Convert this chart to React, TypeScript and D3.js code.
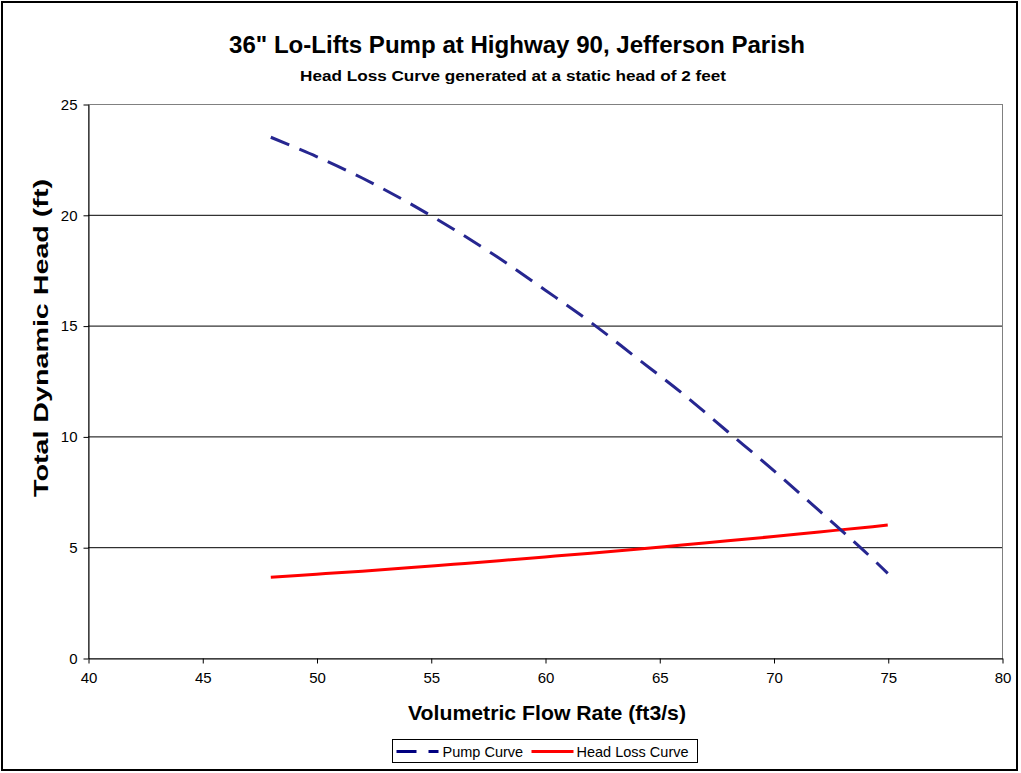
import { useEffect, useRef } from "react";
import * as d3 from "d3";

// flow rate (ft3/s) points for both curves
const flowRates = [48, 50, 52, 54, 56, 58, 60, 62, 64, 66, 68, 70, 72, 74, 75];
const pumpCurve = [23.5, 22.63, 21.66, 20.56, 19.35, 18.04, 16.61, 15.15, 13.55, 11.95, 10.21, 8.47, 6.65, 4.8, 3.82];
const headLossCurve = [3.64, 3.78, 3.92, 4.07, 4.23, 4.39, 4.56, 4.73, 4.91, 5.1, 5.29, 5.48, 5.69, 5.89, 6.0];

const xTicks = [40, 45, 50, 55, 60, 65, 70, 75, 80];
const yTicks = [0, 5, 10, 15, 20, 25];

const seriesNames = ["Pump Curve", "Head Loss Curve"];

const App = () => {
  const ref = useRef<SVGSVGElement>(null);

  useEffect(() => {
    drawChart();
  }, []);

  const drawChart = () => {
    const width = 1021;
    const height = 773;
    const plot = { left: 88, right: 1002, top: 104, bottom: 658 };
    const font = "Liberation Sans, Arial, sans-serif";

    const svg = d3.select(ref.current);
    svg.selectAll("*").remove();

    svg.append("rect").attr("width", width).attr("height", height).attr("fill", "white");

    // outer frame
    svg
      .append("rect")
      .attr("x", 2)
      .attr("y", 2)
      .attr("width", 1015)
      .attr("height", 768)
      .attr("fill", "none")
      .attr("stroke", "black")
      .attr("stroke-width", 2);

    const xScale = d3.scaleLinear().domain([40, 80]).range([plot.left, plot.right]);
    const yScale = d3.scaleLinear().domain([0, 25]).range([plot.bottom, plot.top]);

    // plot area border (top/right gray)
    svg
      .append("rect")
      .attr("x", plot.left + 0.5)
      .attr("y", plot.top + 0.5)
      .attr("width", plot.right - plot.left)
      .attr("height", plot.bottom - plot.top)
      .attr("fill", "none")
      .attr("stroke", "#808080")
      .attr("stroke-width", 1);

    // horizontal gridlines
    svg
      .append("g")
      .selectAll("line")
      .data(yTicks.filter((d) => d > 0 && d < 25))
      .enter()
      .append("line")
      .attr("x1", plot.left)
      .attr("x2", plot.right)
      .attr("y1", (d) => yScale(d) + 0.5)
      .attr("y2", (d) => yScale(d) + 0.5)
      .attr("stroke", "black")
      .attr("stroke-width", 1);

    // axes
    const yAxis = d3
      .axisLeft(yScale)
      .tickValues(yTicks)
      .tickSize(5)
      .tickPadding(6)
      .tickSizeOuter(0);
    const yG = svg
      .append("g")
      .attr("transform", "translate(" + (plot.left + 0.5) + ",0.5)")
      .call(yAxis);

    const xAxis = d3
      .axisBottom(xScale)
      .tickValues(xTicks)
      .tickSize(5)
      .tickPadding(9)
      .tickSizeOuter(0);
    const xG = svg
      .append("g")
      .attr("transform", "translate(0.5," + (plot.bottom + 0.5) + ")")
      .call(xAxis);

    [xG, yG].forEach((g) => {
      g.select(".domain").attr("stroke", "black");
      g.selectAll(".tick line").attr("stroke", "black");
      g.selectAll(".tick text")
        .attr("font-family", font)
        .attr("font-size", "15px")
        .attr("fill", "black");
    });

    const line = d3
      .line<number>()
      .x((_, i) => xScale(flowRates[i]))
      .y((d) => yScale(d))
      .curve(d3.curveCatmullRom);

    svg
      .append("path")
      .attr("d", line(headLossCurve))
      .attr("fill", "none")
      .attr("stroke", "#ff0000")
      .attr("stroke-width", 3);

    svg
      .append("path")
      .attr("d", line(pumpCurve))
      .attr("fill", "none")
      .attr("stroke", "#262690")
      .attr("stroke-width", 3)
      .attr("stroke-dasharray", "20,11");

    // titles (stretched to the widths seen in the source image)
    svg
      .append("text")
      .attr("x", 517)
      .attr("y", 53)
      .attr("text-anchor", "middle")
      .attr("font-family", font)
      .attr("font-weight", "bold")
      .attr("font-size", "23px")
      .attr("textLength", 576)
      .attr("lengthAdjust", "spacingAndGlyphs")
      .text('36" Lo-Lifts Pump at Highway 90, Jefferson Parish');

    svg
      .append("text")
      .attr("x", 513)
      .attr("y", 81)
      .attr("text-anchor", "middle")
      .attr("font-family", font)
      .attr("font-weight", "bold")
      .attr("font-size", "15px")
      .attr("textLength", 426)
      .attr("lengthAdjust", "spacingAndGlyphs")
      .text("Head Loss Curve generated at a static head of 2 feet");

    svg
      .append("text")
      .attr("transform", "translate(48,338) rotate(-90)")
      .attr("text-anchor", "middle")
      .attr("font-family", font)
      .attr("font-weight", "bold")
      .attr("font-size", "21px")
      .attr("textLength", 318)
      .attr("lengthAdjust", "spacingAndGlyphs")
      .text("Total Dynamic Head (ft)");

    svg
      .append("text")
      .attr("x", 547)
      .attr("y", 720)
      .attr("text-anchor", "middle")
      .attr("font-family", font)
      .attr("font-weight", "bold")
      .attr("font-size", "21px")
      .attr("textLength", 278)
      .attr("lengthAdjust", "spacingAndGlyphs")
      .text("Volumetric Flow Rate (ft3/s)");

    // legend
    const legend = svg.append("g").attr("transform", "translate(392.5,739.5)");
    legend
      .append("rect")
      .attr("width", 305)
      .attr("height", 23)
      .attr("fill", "white")
      .attr("stroke", "black")
      .attr("stroke-width", 1);

    const legendStyles = [
      { x: 4, color: "#000080", dash: "20,12", textX: 50 },
      { x: 139, color: "#ff0000", dash: "none", textX: 184 },
    ];
    seriesNames.forEach((name, i) => {
      const s = legendStyles[i];
      legend
        .append("line")
        .attr("x1", s.x)
        .attr("x2", s.x + 42)
        .attr("y1", 12)
        .attr("y2", 12)
        .attr("stroke", s.color)
        .attr("stroke-width", 3)
        .attr("stroke-dasharray", s.dash);
      legend
        .append("text")
        .attr("x", s.textX)
        .attr("y", 17)
        .attr("font-family", font)
        .attr("font-size", "14.5px")
        .text(name);
    });
  };

  return (
    <svg
      ref={ref}
      width={1021}
      height={773}
      style={{ position: "absolute", left: 0, top: 0 }}
    ></svg>
  );
};

export default App;
